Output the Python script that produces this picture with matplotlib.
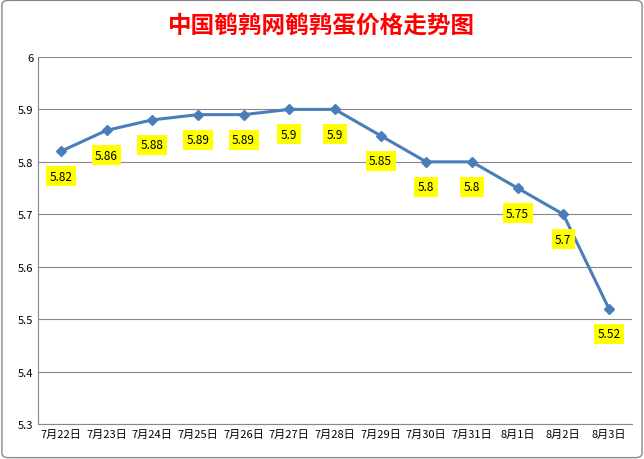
import matplotlib

matplotlib.use("Agg")

import matplotlib.pyplot as plt
from matplotlib.patches import FancyBboxPatch

plt.rcParams["font.family"] = ["Noto Sans CJK SC", "DejaVu Sans"]

dates = ["7月22日", "7月23日", "7月24日", "7月25日", "7月26日", "7月27日", "7月28日",
         "7月29日", "7月30日", "7月31日", "8月1日", "8月2日", "8月3日"]
prices = [5.82, 5.86, 5.88, 5.89, 5.89, 5.9, 5.9, 5.85, 5.8, 5.8, 5.75, 5.7, 5.52]
labels = ["5.82", "5.86", "5.88", "5.89", "5.89", "5.9", "5.9", "5.85", "5.8", "5.8", "5.75", "5.7", "5.52"]

fig = plt.figure(figsize=(6.44, 4.6), dpi=100)
fig.patches.append(FancyBboxPatch((0.003, 0.003), 0.994, 0.994, boxstyle="round,pad=0,rounding_size=0.01",
                                  transform=fig.transFigure, fill=False, edgecolor="#888888", linewidth=1))
ax = fig.add_axes([0.059, 0.076, 0.922, 0.798])

x = list(range(len(dates)))
ax.plot(x, prices, color="#4a7ebb", linewidth=2.2, marker="D", markersize=5, zorder=3)
for xi, p, lab in zip(x, prices, labels):
    ax.annotate(lab, (xi, p), xytext=(0, -18), textcoords="offset points", ha="center", va="center",
                fontsize=8.5, bbox=dict(boxstyle="square,pad=0.3", facecolor="#ffff00", edgecolor="none"))

ax.set_ylim(5.3, 6.0)
ax.set_yticks([5.3, 5.4, 5.5, 5.6, 5.7, 5.8, 5.9, 6.0])
ax.set_yticklabels(["5.3", "5.4", "5.5", "5.6", "5.7", "5.8", "5.9", "6"])
ax.set_xlim(-0.5, len(dates) - 0.5)
ax.set_xticks(x)
ax.set_xticklabels(dates)
ax.tick_params(labelsize=8, length=0)
ax.grid(axis="y", color="#888888", linewidth=0.8)
ax.set_axisbelow(True)
for side in ["top", "right"]:
    ax.spines[side].set_visible(False)
ax.spines["left"].set_color("#888888")
ax.spines["bottom"].set_color("#888888")

fig.text(0.5, 0.945, "中国鹌鹑网鹌鹑蛋价格走势图", ha="center", va="center",
         fontsize=17, color="#ff0000", fontweight="bold")

fig.savefig("out.png", dpi=100)
